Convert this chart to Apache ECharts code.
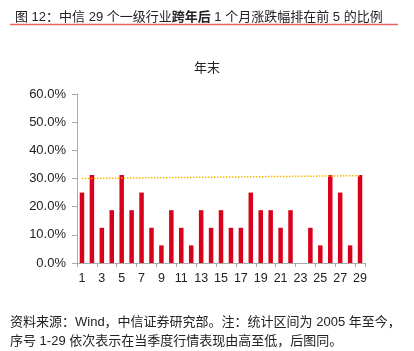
<!DOCTYPE html>
<html>
<head>
<meta charset="utf-8">
<script src="https://cdn.jsdelivr.net/npm/echarts@6/dist/echarts.min.js"></script>
<style>
  html, body { margin: 0; padding: 0; background: #fff; }
  #main { width: 414px; height: 351px; }
</style>
</head>
<body>
<div id="main"></div>
<script>
// 行业序号
let categories = ['1', '2', '3', '4', '5', '6', '7', '8', '9', '10', '11', '12', '13', '14', '15',
    '16', '17', '18', '19', '20', '21', '22', '23', '24', '25', '26', '27', '28', '29'];
// 排在前5的比例 (%)
let ratio = [25, 31.25, 12.5, 18.75, 31.25, 18.75, 25, 12.5, 6.25, 18.75, 12.5, 6.25, 18.75, 12.5, 18.75,
    12.5, 12.5, 25, 18.75, 18.75, 12.5, 18.75, 0, 12.5, 6.25, 31.25, 25, 6.25, 31.25];
// 参考虚线两端 (%)
let refLine = [30.0, 31.0];
let yTicks = { min: 0, max: 60, interval: 10 };

let font = '"Liberation Sans", "Noto Sans CJK SC", sans-serif';
let chart = echarts.init(document.getElementById('main'));

let option = {
    animation: false,
    title: [{
        left: 10,
        top: 6,
        text: '图 12：中信 29 个一级行业{b|跨年后} 1 个月涨跌幅排在前 5 的比例',
        textStyle: {
            fontFamily: font, fontSize: 13, fontWeight: 'normal', color: '#222',
            rich: { b: { fontFamily: font, fontSize: 13, fontWeight: 'bold', color: '#222' } }
        }
    }, {
        left: 202,
        top: 57,
        textAlign: 'center',
        text: '年末',
        textStyle: { fontFamily: font, fontSize: 13, fontWeight: 'normal', color: '#222' }
    }],
    graphic: [{
        type: 'line',
        shape: { x1: 10, y1: 24.5, x2: 398, y2: 24.5 },
        style: { stroke: '#e8625f', lineWidth: 1.5 }
    }, {
        type: 'text',
        left: 10,
        top: 313,
        style: {
            text: '资料来源：Wind，中信证券研究部。注：统计区间为 2005 年至今，\n序号 1-29 依次表示在当季度行情表现由高至低，后图同。',
            font: '13px ' + font,
            fill: '#222',
            lineHeight: 19
        }
    }],
    grid: { left: 77, right: 49, top: 94, bottom: 88 },
    xAxis: {
        type: 'category',
        data: categories,
        axisLine: { lineStyle: { color: '#aaa' } },
        axisTick: { show: true, length: 4, lineStyle: { color: '#aaa' } },
        axisLabel: { interval: 1, color: '#222', fontSize: 12.5, fontFamily: font, margin: 9 }
    },
    yAxis: {
        type: 'value',
        min: yTicks.min,
        max: yTicks.max,
        interval: yTicks.interval,
        axisLine: { show: true, lineStyle: { color: '#aaa' } },
        axisTick: { show: true, length: 5, lineStyle: { color: '#aaa' } },
        splitLine: { show: false },
        axisLabel: {
            color: '#222', fontSize: 13, fontFamily: font, margin: 11,
            formatter: function(v) { return v.toFixed(1) + '%'; }
        }
    },
    series: [{
        type: 'bar',
        data: ratio,
        barWidth: 4.5,
        itemStyle: { color: '#d9001b' },
        markLine: {
            silent: true,
            symbol: 'none',
            label: { show: false },
            lineStyle: { color: '#f5b800', type: 'dotted', width: 1.5 },
            data: [[
                { coord: [categories[0], refLine[0]] },
                { coord: [categories[categories.length - 1], refLine[1]] }
            ]]
        }
    }]
};
chart.setOption(option);
</script>
</body>
</html>
